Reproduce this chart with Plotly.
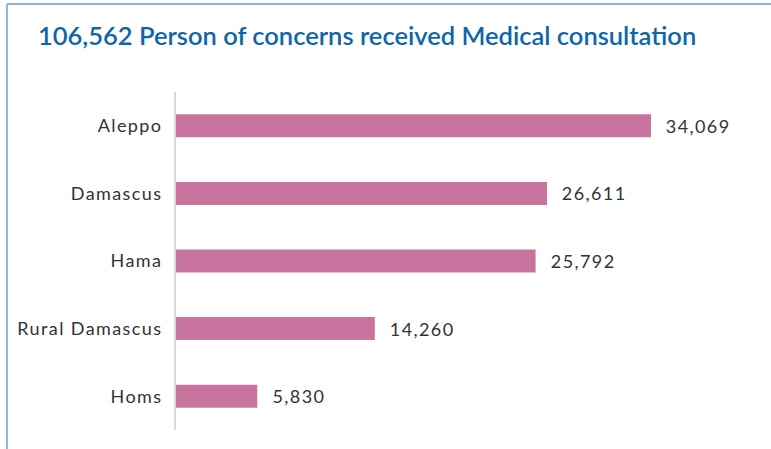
import plotly.graph_objects as go

categories = ["Aleppo", "Damascus", "Hama", "Rural Damascus", "Homs"]
values = [34069, 26611, 25792, 14260, 5830]
value_labels = ["34,069", "26,611", "25,792", "14,260", "5,830"]
title_text = "106,562 Person of concerns received Medical consultation"

W, H = 771, 449
ml, mr, mt, mb = 176, 11, 92, 19
pw = W - ml - mr
ph = H - mt - mb

fig = go.Figure()
fig.add_trace(go.Bar(
    y=categories, x=values, orientation="h",
    marker=dict(color="#C8749F", line=dict(width=0)),
    width=0.34, hoverinfo="skip",
))

for c, v, t in zip(categories, values, value_labels):
    fig.add_annotation(x=v, y=c, text=t, showarrow=False, xanchor="left",
                       xshift=17, font=dict(family="Lato", size=18, color="#333333"))

# frame lines (decorative border)
bx = (7 - ml) / pw
by = (H - mb - 4) / ph
fig.add_shape(type="line", xref="paper", yref="paper", x0=bx, x1=(W - ml) / pw + 0.01,
              y0=by, y1=by, line=dict(color="#8DB6E2", width=2))
fig.add_shape(type="line", xref="paper", yref="paper", x0=bx, x1=bx,
              y0=by, y1=-mb / ph - 0.01, line=dict(color="#8DB6E2", width=2))

fig.update_layout(
    width=W, height=H,
    margin=dict(l=ml, r=mr, t=mt, b=mb),
    paper_bgcolor="white", plot_bgcolor="white",
    showlegend=False,
    title=dict(text=title_text, x=38 / W, xanchor="left", xref="container",
               y=1 - 36 / H, yanchor="middle", yref="container",
               font=dict(family="Lato", size=25.5, color="#0E66AA", weight=600)),
    xaxis=dict(range=[0, 34069 * pw / 475], visible=False, fixedrange=True),
    yaxis=dict(autorange="reversed", showline=True, linecolor="#D9D9D9", linewidth=2,
               showgrid=False, zeroline=False, ticks="", ticklabelstandoff=8,
               tickfont=dict(family="Lato", size=18, color="#333333")),
)

post = """
document.body.style.margin = '0';
function sp(){
  document.querySelectorAll('.ytick text, .annotation-text').forEach(function(e){
    e.style.letterSpacing = '1.4px';
  });
}
sp();
var gd = document.getElementsByClassName('plotly-graph-div')[0];
if (gd && gd.on) { gd.on('plotly_afterplot', sp); }
"""

fig.write_html("out.html", post_script=post, config={"displayModeBar": False})
